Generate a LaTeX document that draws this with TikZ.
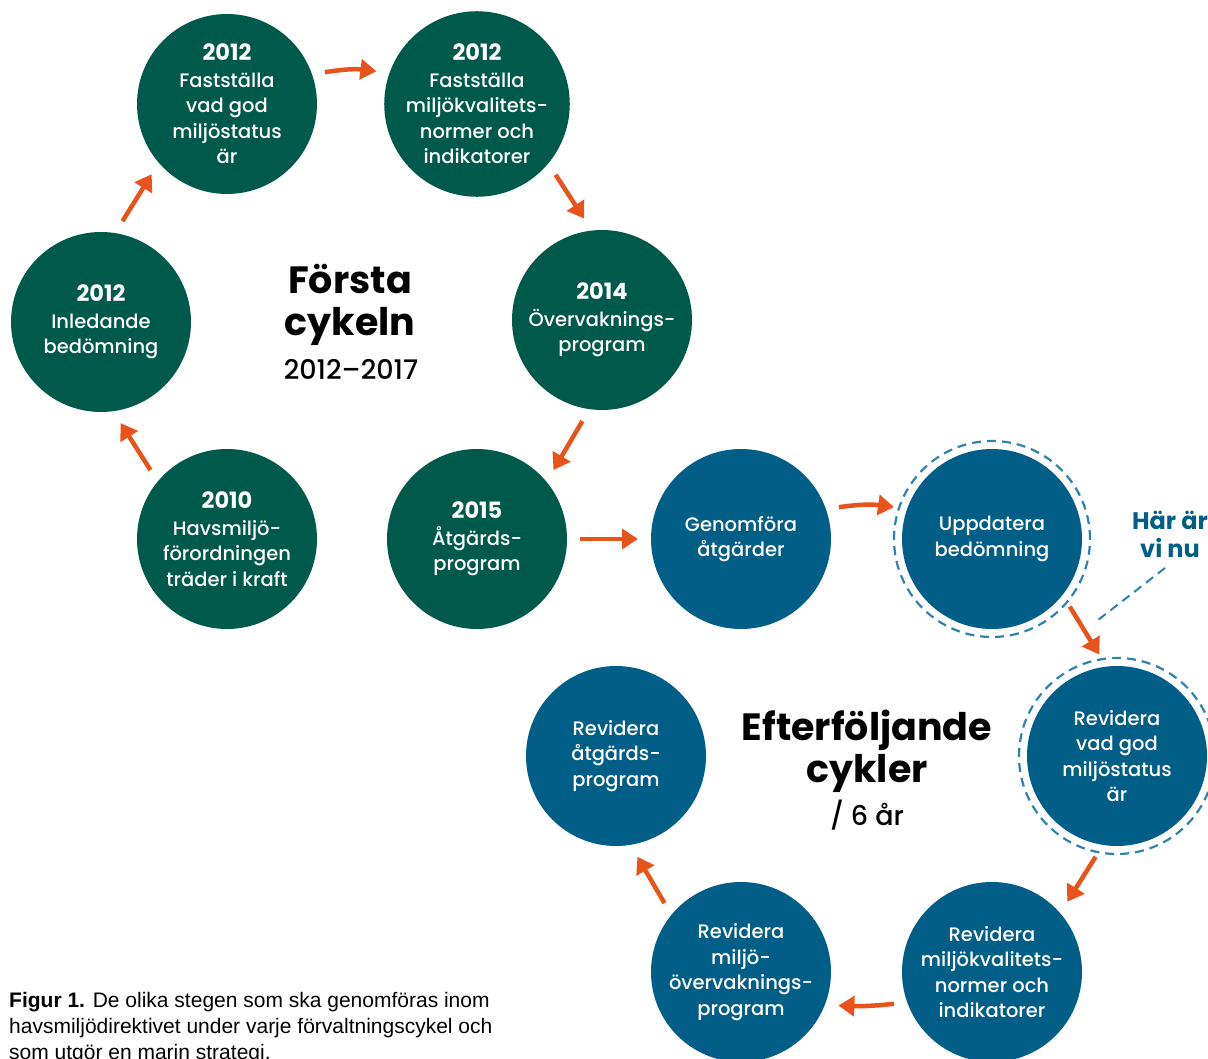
\documentclass[tikz,border=0pt]{standalone}
\usepackage{fontspec}
\setmainfont{Poppins}[UprightFont=*-Medium, BoldFont=*-Bold]
\newfontfamily\capfont{Liberation Sans}
\usetikzlibrary{arrows.meta}
\definecolor{cgreen}{HTML}{005A4B}
\definecolor{cblue}{HTML}{005E87}
\definecolor{corange}{HTML}{E8531C}
\definecolor{cdash}{HTML}{2F82AA}
\newcommand{\yr}[1]{{\fontsize{22.5}{26}\selectfont\bfseries #1}}

\begin{document}
\begin{tikzpicture}[x=1pt,y=1pt,
  stage/.style={circle, minimum size=180pt, inner sep=0pt, text=white, align=center,
    font=\fontsize{19.5}{25.5}\selectfont, outer sep=13pt},
  firststage/.style={stage, fill=cgreen},
  nextstage/.style={stage, fill=cblue},
  ring/.style={draw=cdash, line width=2.2pt, dash pattern=on 9pt off 6pt},
  flow/.style={draw=corange, line width=4.5pt, -{Triangle[length=16pt,width=20pt]}},
  title/.style={font=\fontsize{38}{42}\selectfont\bfseries, align=center},
  sub/.style={font=\fontsize{27}{30}\selectfont},
]
\useasboundingbox (0,0) rectangle (1208,-1059);
\clip (0,0) rectangle (1208,-1059);

% first cycle
\node[firststage] (A) at (227,-104) {\yr{2012}\\[1pt]Fastställa\\vad god\\miljöstatus\\är};
\node[firststage] (B) at (477,-104) {\yr{2012}\\[1pt]Fastställa\\miljökvalitets-\\normer och\\indikatorer};
\node[firststage] (C) at (602,-320) {\yr{2014}\\[1pt]Övervaknings-\\program};
\node[firststage] (D) at (477,-539) {\yr{2015}\\[1pt]Åtgärds-\\program};
\node[firststage] (E) at (227,-539) {\yr{2010}\\[1pt]Havsmiljö-\\förordningen\\träder i kraft};
\node[firststage] (F) at (101,-322) {\yr{2012}\\[1pt]Inledande\\bedömning};

% subsequent cycles
\node[nextstage] (G) at (741,-539) {Genomföra\\åtgärder};
\node[nextstage] (H) at (992,-539) {Uppdatera\\bedömning};
\node[nextstage] (I) at (1117,-756) {Revidera\\vad god\\miljöstatus\\är};
\node[nextstage] (J) at (992,-972) {Revidera\\miljökvalitets-\\normer och\\indikatorer};
\node[nextstage] (K) at (741,-972) {Revidera\\miljö-\\övervaknings-\\program};
\node[nextstage] (L) at (616,-756) {Revidera\\åtgärds-\\program};

% current position rings
\draw[ring] (H.center) circle[radius=98];
\draw[ring] (I.center) circle[radius=98];

% arrows
\draw[flow] (A.18) to[bend left=8] (B.162);
\draw[flow] (B.-42) to (C.100);
\draw[flow] (C.259) to (D.42);
\draw[flow] (D.0) to (G.180);
\draw[flow] (G.18) to[bend left=8] (H.162);
\draw[flow] (H.-41) to (I.100);
\draw[flow] (I.258) to (J.43);
\draw[flow] (J.198) to[bend left=4] (K.-19);
\draw[flow] (K.138) to (L.-78);
\draw[flow] (E.138) to (F.-79);
\draw[flow] (F.78) to (A.223);

% cycle titles
\node[title] (t1) at (350,-305) {Första\\cykeln};
\node[sub] (t1y) at (351,-369) {2012–2017};
\node[title] (t2) at (867,-751) {Efterföljande\\cykler};
\node[sub] (t2y) at (867,-815) {/ 6 år};

% marker
\node[font=\fontsize{24}{28}\selectfont\bfseries, text=cblue, align=center] (now) at (1170,-534) {Här är\\vi nu};
\coordinate (p1) at (1165,-568);
\coordinate (p2) at (1098,-620);
\draw[draw=cdash, line width=2pt, dash pattern=on 9pt off 6pt] (p1) -- (p2);

% caption
\node[font=\capfont\fontsize{21}{26}\selectfont, align=left, anchor=north west, inner sep=0pt] (cap) at (9,-992)
  {\textbf{Figur 1.} De olika stegen som ska genomföras inom\\havsmiljödirektivet under varje förvaltningscykel och\\som utgör en marin strategi.};
\end{tikzpicture}
\end{document}
